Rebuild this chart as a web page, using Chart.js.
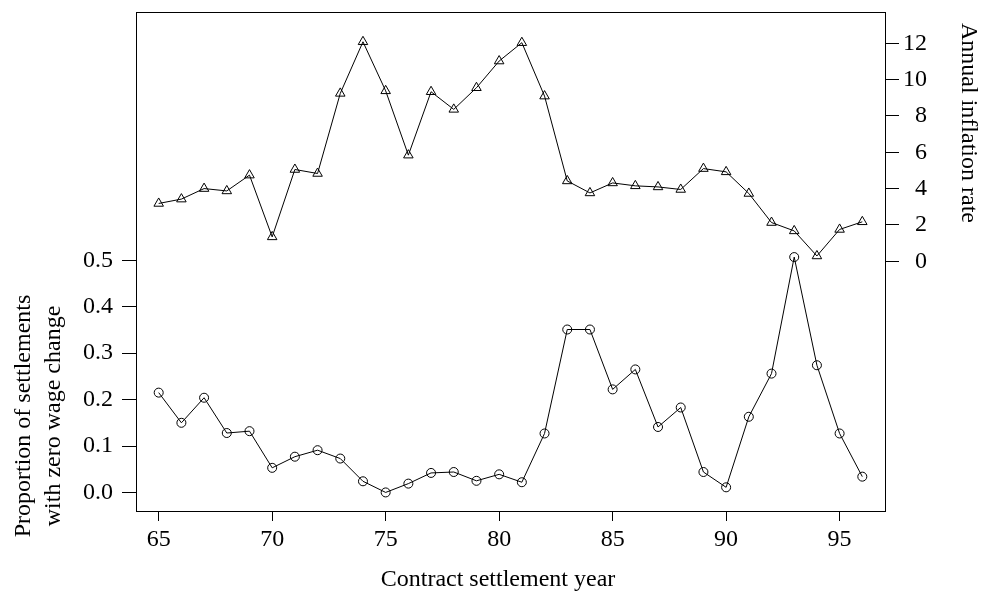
<!DOCTYPE html>
<html>
<head>
<meta charset="utf-8">
<script src="https://cdn.jsdelivr.net/npm/chart.js@4.4.1/dist/chart.umd.min.js"></script>
<style>
  html, body { margin: 0; padding: 0; background: #fff; }
  canvas { display: block; }
</style>
</head>
<body>
<canvas id="settlementChart" width="985" height="596"></canvas>
<script>
var years = [65, 66, 67, 68, 69, 70, 71, 72, 73, 74, 75, 76, 77, 78, 79, 80,
  81, 82, 83, 84, 85, 86, 87, 88, 89, 90, 91, 92, 93, 94, 95, 96];

// proportion of settlements with zero wage change (left axis)
var zeroShare = [0.215, 0.150, 0.204, 0.128, 0.132, 0.053, 0.077, 0.091, 0.073, 0.024,
  0.000, 0.019, 0.042, 0.044, 0.025, 0.039, 0.022, 0.127, 0.351, 0.351,
  0.222, 0.265, 0.141, 0.183, 0.044, 0.011, 0.163, 0.256, 0.507, 0.274,
  0.127, 0.034];

// annual inflation rate (right axis)
var inflation = [3.18, 3.42, 4.00, 3.87, 4.74, 1.34, 5.05, 4.83, 9.24, 12.08,
  9.38, 5.84, 9.33, 8.36, 9.55, 11.02, 12.03, 9.09, 4.42, 3.76,
  4.31, 4.15, 4.09, 3.95, 5.10, 4.92, 3.73, 2.13, 1.67, 0.29,
  1.75, 2.17];

var xTicks = [65, 70, 75, 80, 85, 90, 95];
var leftTicks = [0, 0.1, 0.2, 0.3, 0.4, 0.5];
var rightTicks = [0, 2, 4, 6, 8, 10, 12];

var serif = "'Liberation Serif', 'Times New Roman', serif";

function pairs(xs, ys) {
  return xs.map(function (x, i) { return { x: x, y: ys[i] }; });
}

// no end-label padding, so the plot box sits exactly where we put it
function noPad(s) {
  s.paddingTop = 0;
  s.paddingBottom = 0;
  s.paddingLeft = 0;
  s.paddingRight = 0;
}

var framePlugin = {
  id: "frameAndTitles",
  afterDraw: function (chart) {
    var ctx = chart.ctx;
    var a = chart.chartArea;
    ctx.save();
    ctx.strokeStyle = "#000";
    ctx.lineWidth = 1;
    ctx.strokeRect(Math.round(a.left) + 0.5, Math.round(a.top) + 0.5,
      Math.round(a.right - a.left), Math.round(a.bottom - a.top));

    ctx.fillStyle = "#000";
    ctx.font = "24px " + serif;
    ctx.textAlign = "center";
    ctx.textBaseline = "middle";
    ctx.fillText("Contract settlement year", 498, 580);

    ctx.save();
    ctx.translate(24, 416);
    ctx.rotate(-Math.PI / 2);
    ctx.fillText("Proportion of settlements", 0, 0);
    ctx.fillText("with zero wage change", 0, 30);
    ctx.restore();

    ctx.save();
    ctx.translate(968, 123);
    ctx.rotate(Math.PI / 2);
    ctx.fillText("Annual inflation rate", 0, 0);
    ctx.restore();
    ctx.restore();
  }
};

var tickFont = { family: serif, size: 24 };

var config = {
  type: "line",
  data: {
    datasets: [
      {
        label: "Zero wage change",
        data: pairs(years, zeroShare),
        yAxisID: "y",
        borderColor: "#000",
        borderWidth: 1,
        pointStyle: "circle",
        pointRadius: 4.5,
        pointBorderWidth: 1,
        pointBorderColor: "#000",
        pointBackgroundColor: "rgba(0,0,0,0)",
        tension: 0
      },
      {
        label: "Inflation",
        data: pairs(years, inflation),
        yAxisID: "y2",
        borderColor: "#000",
        borderWidth: 1,
        pointStyle: "triangle",
        pointRadius: 5.5,
        pointBorderWidth: 1,
        pointBorderColor: "#000",
        pointBackgroundColor: "rgba(0,0,0,0)",
        tension: 0
      }
    ]
  },
  options: {
    responsive: false,
    animation: false,
    layout: { padding: { top: 12, left: 0, right: 58, bottom: 0 } },
    plugins: {
      legend: { display: false },
      tooltip: { enabled: false }
    },
    scales: {
      x: {
        type: "linear",
        position: "bottom",
        min: 64,
        max: 97,
        afterBuildTicks: function (s) { s.ticks = xTicks.map(function (v) { return { value: v }; }); },
        afterFit: function (s) { s.height = 85; noPad(s); },
        ticks: { font: tickFont, color: "#000", padding: 4, autoSkip: false, maxRotation: 0 },
        grid: { drawOnChartArea: false, drawTicks: true, tickLength: 10, color: "#000" },
        border: { display: true, color: "#000" }
      },
      y: {
        type: "linear",
        position: "left",
        min: -0.04,
        max: 1.035,
        afterBuildTicks: function (s) { s.ticks = leftTicks.map(function (v) { return { value: v }; }); },
        afterFit: function (s) { s.width = 136; noPad(s); },
        ticks: {
          font: tickFont, color: "#000", padding: 9, autoSkip: false,
          callback: function (v) { return v.toFixed(1); }
        },
        grid: { drawOnChartArea: false, drawTicks: true, tickLength: 14, color: "#000" },
        border: { display: true, color: "#000" }
      },
      y2: {
        type: "linear",
        position: "right",
        min: -13.75,
        max: 13.72,
        afterBuildTicks: function (s) { s.ticks = rightTicks.map(function (v) { return { value: v }; }); },
        afterFit: function (s) { s.width = 42; noPad(s); },
        ticks: {
          font: tickFont, color: "#000", padding: 4, autoSkip: false, crossAlign: "far",
          callback: function (v) { return String(v); }
        },
        grid: { drawOnChartArea: false, drawTicks: true, tickLength: 14, color: "#000" },
        border: { display: true, color: "#000" }
      }
    }
  },
  plugins: [framePlugin]
};

var myChart = new Chart(document.getElementById("settlementChart"), config);
</script>
</body>
</html>
